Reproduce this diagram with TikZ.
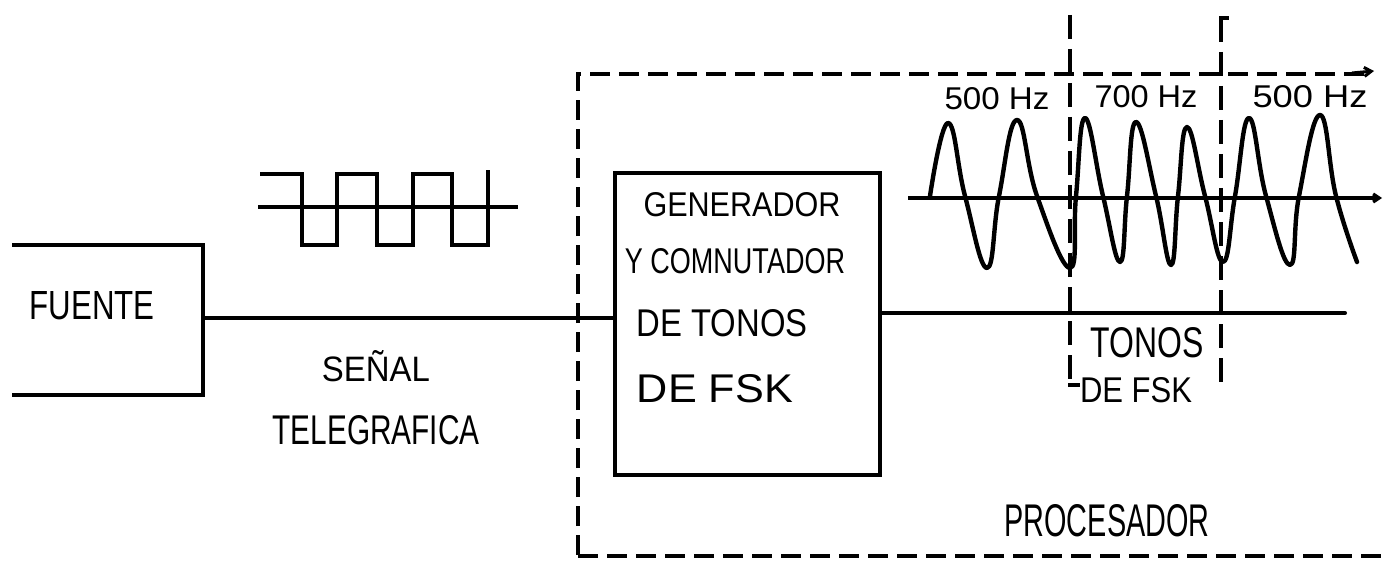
\documentclass[tikz,border=0pt]{standalone}
\usepackage{fontspec}
\usepackage{graphicx}
\setmainfont{Liberation Sans}
\usetikzlibrary{arrows.meta}
\newcommand{\hw}[3]{\resizebox{#1pt}{#2pt}{#3}}
\tikzset{
  solidline/.style={line width=3.4pt, line cap=round, line join=round},
  boxline/.style={line width=4pt, line join=miter},
  dashline/.style={line width=4pt, dash pattern=on 20pt off 9pt},
  label/.style={inner sep=0pt, outer sep=0pt},
  wave/.style={line width=4.4pt, line cap=round, line join=round}
}
\begin{document}
\begin{tikzpicture}[x=1pt,y=-1pt]
\useasboundingbox (0,0) rectangle (1383,572);

% FUENTE block (open on the left)
\draw[boxline] (12,245) -- (203,245) -- (203,395) -- (12,395);
\node[label] (fuente) at (92,306) {\hw{125}{28}{FUENTE}};
\coordinate (fR) at (203,318);

% generator block
\node[draw, boxline, minimum width=265pt, minimum height=302pt, inner sep=0pt] (gen) at (747.5,324) {};
\node[label] (g1) at (742,205) {\hw{197}{24}{GENERADOR}};
\node[label] (g2) at (735,261) {\hw{220}{25}{Y COMNUTADOR}};
\node[label] (g3) at (722,323) {\hw{171}{27}{DE TONOS}};
\node[label] (g4) at (715,389) {\hw{156}{28}{DE FSK}};

% connectors
\draw[solidline] (fR) -- (fR -| gen.west);
\coordinate (outEnd) at (1345,313);
\draw[solidline, line width=4pt] (gen.east |- outEnd) -- (outEnd);

% telegraph signal labels
\node[label] (senal) at (376,366) {\hw{108}{31}{SEÑAL}};
\node[label] (teleg) at (376,430) {\hw{207}{29}{TELEGRAFICA}};

% square wave
\draw[line width=3.4pt] (258,207) -- (518,207);
\draw[wave, line width=4pt, line cap=butt, line join=miter]
  (260,174) -- (302,174) -- (302,245) -- (337,245) -- (337,174) -- (377,174)
  -- (377,245) -- (413,245) -- (413,174) -- (452,174) -- (452,245) -- (488,245) -- (488,170);

% processor dashed box
\draw[dashline] (578,555) -- (578,74) -- (1368,74);
\draw[line width=3pt, -{Straight Barb[length=7pt,width=9pt]}] (1352,73) -- (1374,71);
\draw[dashline] (578,556) -- (1383,556);
\node[label] (proc) at (1107,521) {\hw{205}{32}{PROCESADOR}};

% FSK tones
\draw[line width=3.2pt, -{Straight Barb[length=6pt,width=8pt]}] (908,198) -- (1382,198);
\draw[wave] plot[smooth, tension=0.75] coordinates {
  (930,196) (948,123) (965,196) (987,268) (999,196) (1017,120) (1037,196)
  (1070,268) (1076,196) (1085,118) (1103,196) (1120,262) (1127,196)
  (1136,122) (1156,196) (1171,265) (1178,196) (1187,127) (1205,196)
  (1223,262) (1235,196) (1249,118) (1266,196) (1290,265) (1299,196)
  (1320,115) (1336,196) (1357,262)};

% separators
\draw[dashline, dash pattern=on 24pt off 10pt] (1070,15) -- (1070,385);
\draw[line width=3.6pt] (1068,385) -- (1080,385);
\draw[dashline, dash pattern=on 24pt off 10pt] (1221,18) -- (1221,387);
\draw[line width=3.6pt] (1219,18) -- (1229,18);

\node[label] (f1) at (997,99) {\hw{105}{22}{500 Hz}};
\node[label] (f2) at (1146,97) {\hw{103}{22}{700 Hz}};
\node[label] (f3) at (1310,97) {\hw{115}{22}{500 Hz}};
\node[label] (t1) at (1147,343) {\hw{113}{30}{TONOS}};
\node[label] (t2) at (1136,390) {\hw{112}{25}{DE FSK}};
\end{tikzpicture}
\end{document}
